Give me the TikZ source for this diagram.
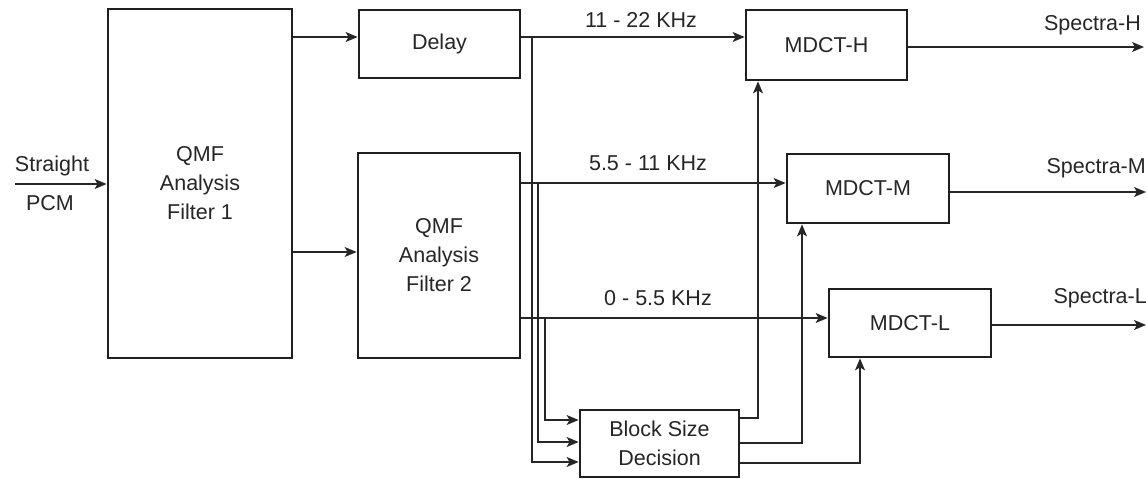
\documentclass[tikz,border=0pt]{standalone}
\usepackage{fontspec}
\setmainfont{Liberation Sans}
\usetikzlibrary{arrows.meta}
\begin{document}
\begin{tikzpicture}[x=1pt,y=-1pt,
  box/.style={draw=black!88, line width=2.8pt, inner sep=0pt, align=center,
    font=\fontsize{21.5}{29}\selectfont, text=black!85},
  lbl/.style={inner sep=0pt, font=\fontsize{21.5}{24}\selectfont, text=black!85},
  conn/.style={draw=black!85, line width=1.3pt},
  arr/.style={conn, -{Stealth[length=12pt,width=10pt,inset=3pt]}}]
\useasboundingbox[fill=white] (0,0) rectangle (1146,479);
% boxes
\node[box, minimum width=184pt, minimum height=349pt] (q1) at (200,183.5) {QMF\\Analysis\\Filter 1};
\node[box, minimum width=161pt, minimum height=68pt] (delay) at (439.5,44) {Delay};
\node[box, minimum width=162pt, minimum height=205pt] (q2) at (439,255.5) {QMF\\Analysis\\Filter 2};
\node[box, minimum width=161pt, minimum height=70pt] (mh) at (826.5,45) {MDCT-H};
\node[box, minimum width=162pt, minimum height=69pt] (mm) at (868,188.5) {MDCT-M};
\node[box, minimum width=162pt, minimum height=68pt] (ml) at (910,323) {MDCT-L};
\node[box, minimum width=159pt, minimum height=67pt] (bsd) at (659.5,443.5) {Block Size\\Decision};
% helper coordinates
\coordinate (in) at (15,184);
\coordinate (yd) at (0,37);
\coordinate (yq) at (0,252);
\coordinate (ym) at (0,183);
\coordinate (yl) at (0,318);
\coordinate (t1) at (532,37);
\coordinate (t2) at (538,183);
\coordinate (t3) at (545,318);
\coordinate (oh) at (1144,47);
\coordinate (om) at (1146,192);
\coordinate (ol) at (1146,325);
% input
\draw[arr] (in) -- (q1.west |- in);
\node[lbl, anchor=south] (sl1) at (52,176) {Straight};
\node[lbl] (sl2) at (50,203) {PCM};
% filter outputs
\draw[arr] (q1.east |- yd) -- (delay.west |- yd);
\draw[arr] (q1.east |- yq) -- (q2.west |- yq);
\draw[arr] (delay.east |- yd) -- (mh.west |- yd);
\draw[arr] (q2.east |- ym) -- (mm.west |- ym);
\draw[arr] (q2.east |- yl) -- (ml.west |- yl);
\node[lbl] (lh) at (641,20) {11 - 22 KHz};
\node[lbl] (lm) at (648,163) {5.5 - 11 KHz};
\node[lbl] (ll) at (658,298) {0 - 5.5 KHz};
% taps to block size decision
\draw[arr] (t1) -- (t1 |- 0,462) -- (bsd.west |- 0,462);
\draw[arr] (t2) -- (t2 |- 0,442) -- (bsd.west |- 0,442);
\draw[arr] (t3) -- (t3 |- 0,420) -- (bsd.west |- 0,420);
% block size decision outputs
\draw[arr] (bsd.east |- 0,418) -- (758,418) -- (mh.south -| 758,0);
\draw[arr] (bsd.east |- 0,443) -- (802,443) -- (mm.south -| 802,0);
\draw[arr] (bsd.east |- 0,463) -- (860,463) -- (ml.south -| 860,0);
% spectra outputs
\draw[arr] (mh.east |- oh) -- (oh);
\draw[arr] (mm.east |- om) -- (om);
\draw[arr] (ml.east |- ol) -- (ol);
\node[lbl, anchor=east] (sh) at (1141,25) {Spectra-H};
\node[lbl, anchor=east] (sm) at (1146,168) {Spectra-M};
\node[lbl, anchor=east] (sL) at (1147,298) {Spectra-L};
\end{tikzpicture}
\end{document}
